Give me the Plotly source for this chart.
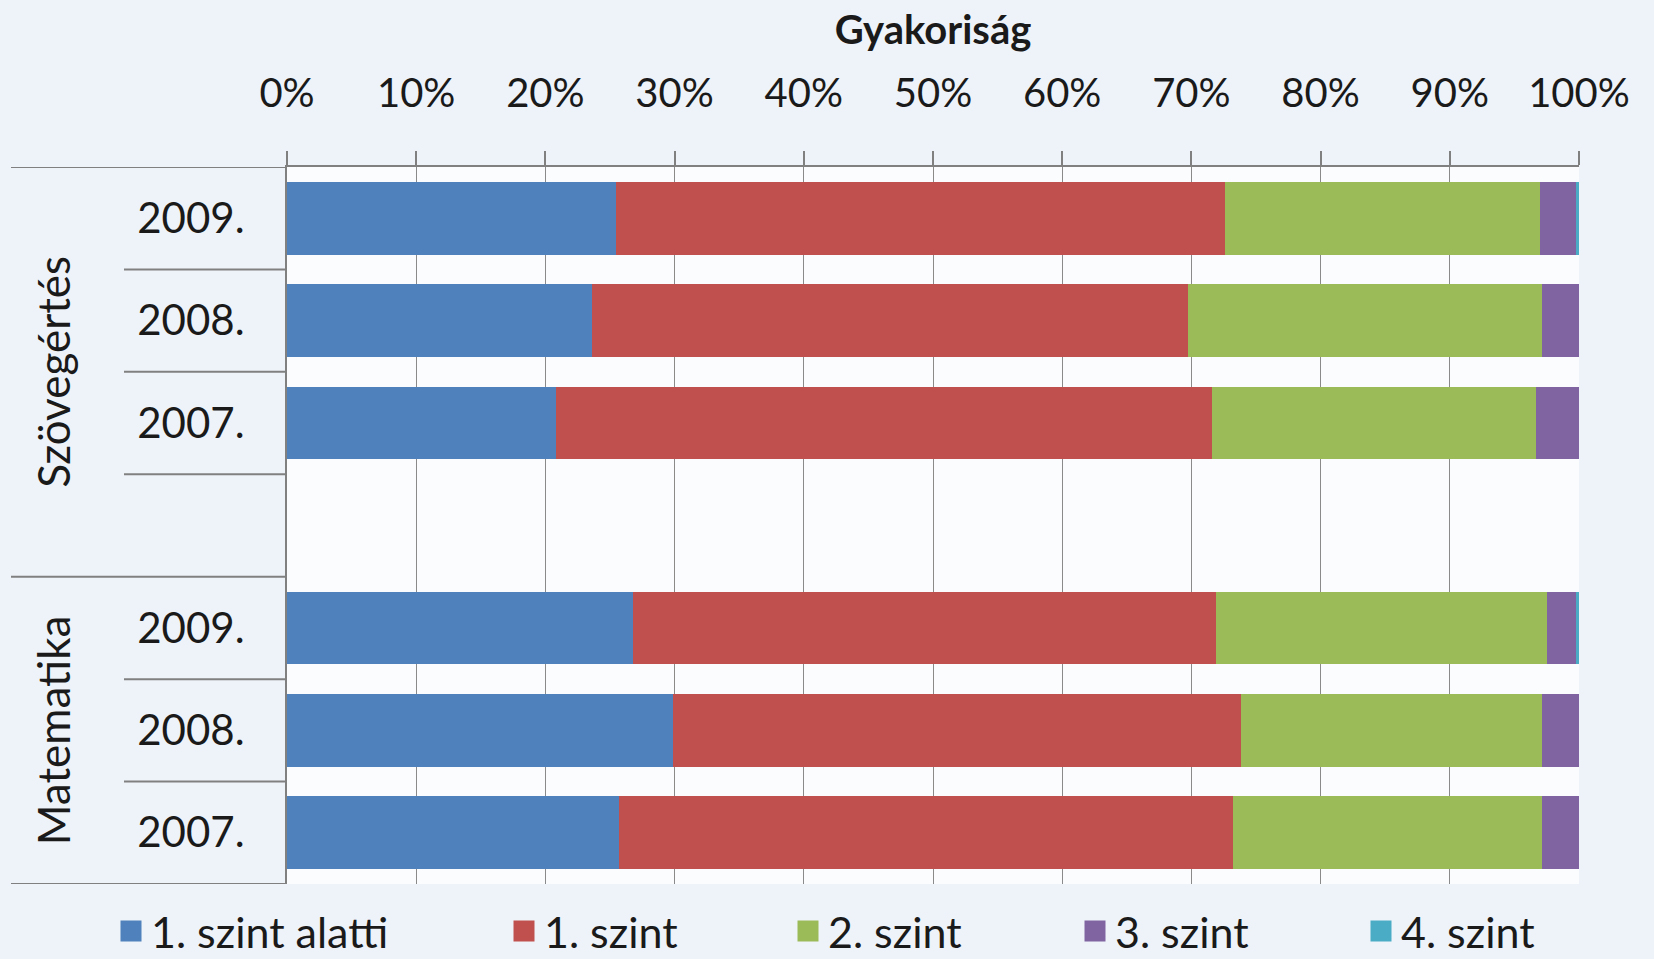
import plotly.graph_objects as go

groups = ["Szövegértés", "Matematika"]
years = ["2009.", "2008.", "2007."]
levels = ["1. szint alatti", "1. szint", "2. szint", "3. szint", "4. szint"]
colors = ["#4F81BD", "#C0504D", "#9BBB59", "#8064A2", "#4BACC6"]

# rows: Szövegértés 2009, 2008, 2007, Matematika 2009, 2008, 2007 (percent)
below1 = [25.5, 23.6, 20.8, 26.8, 29.9, 25.7]
level1 = [47.1, 46.1, 50.8, 45.1, 43.9, 47.5]
level2 = [24.4, 27.4, 25.1, 25.6, 23.3, 23.9]
level3 = [2.8, 2.9, 3.3, 2.3, 2.9, 2.9]
level4 = [0.2, 0.0, 0.0, 0.2, 0.0, 0.0]
series = [below1, level1, level2, level3, level4]

tick_vals = [0, 10, 20, 30, 40, 50, 60, 70, 80, 90, 100]
tick_text = [f"{v}%" for v in tick_vals]

# positions: one blank slot between the groups
nyear = len(years)
pos = []
labels = []
for g in range(len(groups)):
    for j in range(nyear):
        pos.append(g * (nyear + 1) + j)
        labels.append(years[j])
last_pos = max(pos)

W, H = 1654, 959
ML, MR, MT, MB = 287, 75, 167, 75
PW = W - ML - MR

FONT = "Lato"
TXT = "#1a1a1a"
fig = go.Figure()
for name, vals, col in zip(levels, series, colors):
    fig.add_trace(go.Bar(
        x=vals, y=pos, name=name, orientation="h",
        marker=dict(color=col, line=dict(width=0)),
        width=0.71, showlegend=False,
    ))

# legend entries (one legend per entry so they can be spaced like the original)
legend_x_px = [111, 504, 788, 1075, 1361]
layout_legends = {}
for i, (name, col, xp) in enumerate(zip(levels, colors, legend_x_px)):
    key = "legend" if i == 0 else f"legend{i+1}"
    fig.add_trace(go.Scatter(
        x=[None], y=[None], mode="markers", name=name,
        marker=dict(symbol="square", size=22, color=col, line=dict(color=col, width=5)),
        legend=key, showlegend=True,
    ))
    layout_legends[key] = dict(
        x=xp / W, xref="container", xanchor="left",
        y=28 / H, yref="container", yanchor="middle",
        orientation="h", bgcolor="rgba(0,0,0,0)",
        font=dict(family=FONT, size=43, color=TXT),
        itemwidth=30, tracegroupgap=0,
    )

fig.update_layout(
    barmode="stack",
    width=W, height=H,
    margin=dict(l=ML, r=MR, t=MT, b=MB, autoexpand=False),
    paper_bgcolor="#eef3f9",
    plot_bgcolor="#fbfcfe",
    showlegend=True,
    title=dict(
        text="<b>Gyakoriság</b>", x=0.5, xref="paper", xanchor="center",
        y=1 - 30 / H, yref="container", yanchor="middle",
        font=dict(family=FONT, size=40, color=TXT),
    ),
    **layout_legends,
)

fig.update_xaxes(
    side="top", range=[0, 100],
    tickvals=tick_vals, ticktext=tick_text,
    ticks="outside", ticklen=14, tickwidth=1.5, tickcolor="#808080",
    ticklabelstandoff=28,
    showline=True, linecolor="#808080", linewidth=2,
    showgrid=True, gridcolor="#8a8a8a", gridwidth=1.3,
    tickfont=dict(family=FONT, size=40, color=TXT),
    zeroline=False, automargin=False,
)
fig.update_yaxes(
    range=[last_pos + 0.5, -0.5],
    tickvals=pos, ticktext=labels,
    ticks="", ticklabelstandoff=32,
    showline=True, linecolor="#808080", linewidth=2,
    showgrid=False, zeroline=False, automargin=False,
    tickfont=dict(family=FONT, size=42, color=TXT),
)

# separator lines in the category label area
left_full = (11 - ML) / PW
left_short = (124 - ML) / PW
line_style = dict(color="#808080", width=2)
for g in range(len(groups) + 1):
    yb = min(g * (nyear + 1) - 0.5, last_pos + 0.5)
    fig.add_shape(type="line", xref="paper", yref="y", x0=left_full, x1=0, y0=yb, y1=yb, line=line_style)
for g in range(len(groups)):
    nsep = nyear if g < len(groups) - 1 else nyear - 1
    for j in range(1, nsep + 1):
        yb = g * (nyear + 1) + j - 0.5
        fig.add_shape(type="line", xref="paper", yref="y", x0=left_short, x1=0, y0=yb, y1=yb, line=line_style)

# group labels, rotated
for g, gname in enumerate(groups):
    start = g * (nyear + 1) - 0.5
    end = min(start + nyear + 1, last_pos + 0.5)
    fig.add_annotation(
        text=gname, xref="paper", yref="y",
        x=(53 - ML) / PW, y=(start + end) / 2,
        xanchor="center", yanchor="middle",
        textangle=-90, showarrow=False,
        font=dict(family=FONT, size=44, color=TXT),
    )

fig.write_html(
    "out.html",
    config={"displayModeBar": False},
    post_script="document.body.style.margin='0';document.body.style.background='#eef3f9';",
)
